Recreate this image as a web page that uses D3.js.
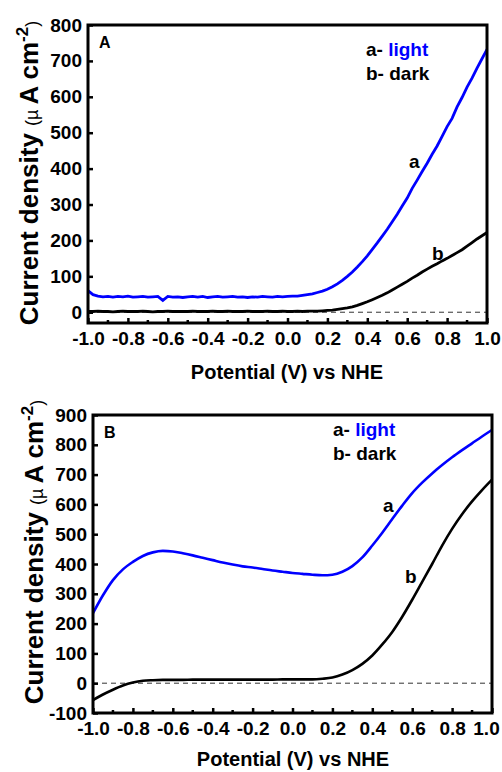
<!DOCTYPE html>
<html>
<head>
<meta charset="utf-8">
<script src="https://cdn.jsdelivr.net/npm/d3@7"></script>
<style>
  body { margin: 0; background: #fff; }
  text { font-family: Arial, "Liberation Sans", sans-serif; }
</style>
</head>
<body>
<svg id="chart" width="502" height="772"></svg>
<script>
// potential grids (V vs NHE)
const potA = d3.range(81).map(i => -1 + i * 0.025);
const potB = d3.range(41).map(i => -1 + i * 0.05);

// panel A, current density (uA cm-2)
const lightA = [60, 49, 45, 43, 44, 42, 44, 43, 45, 42, 43, 44, 42, 43, 44, 33, 44, 42, 43, 41,
    43, 44, 42, 44, 41, 43, 44, 42, 43, 44, 42, 43, 41, 43, 42, 44, 43, 42, 44, 43,
    44, 45, 45, 47, 49, 51, 55, 59, 64, 71, 79, 89, 100, 112, 126, 141, 157, 175, 193, 212,
    231, 252, 273, 296, 318, 345, 368, 392, 415, 440, 463, 490, 517, 540, 572, 598, 627, 652, 680, 706, 732];
const darkA = [2, 2, 3, 2, 2, 1, 2, 3, 2, 2, 2, 3, 2, 1, 2, 2, 3, 2, 2, 2,
    2, 3, 2, 2, 2, 3, 2, 2, 3, 2, 2, 2, 3, 2, 2, 2, 3, 2, 2, 3,
    2, 2, 3, 2, 3, 3, 3, 4, 5, 6, 8, 10, 12, 15, 19, 24, 29, 35, 41, 47,
    54, 62, 70, 78, 86, 95, 103, 112, 120, 128, 135, 143, 150, 158, 166, 174, 184, 194, 204, 213, 222];

// panel B
const lightB = [235, 295, 346, 382, 407, 427, 439, 444, 442, 436, 429, 421, 413, 405, 398, 392, 388, 383, 378, 374,
    370, 367, 364, 362, 364, 374, 393, 422, 462, 505, 551, 596, 638, 673, 704, 732, 758, 782, 805, 828, 850];
const darkB = [-57, -38, -22, -8, 2, 8, 10, 11, 11, 11, 12, 12, 12, 12, 12, 12, 12, 12, 12, 13,
    13, 13, 13, 15, 19, 29, 44, 65, 93, 130, 172, 223, 280, 340, 400, 462, 518, 567, 610, 648, 683];

const xTicks = [-1.0, -0.8, -0.6, -0.4, -0.2, 0.0, 0.2, 0.4, 0.6, 0.8, 1.0];
const xMinor = [-0.9, -0.7, -0.5, -0.3, -0.1, 0.1, 0.3, 0.5, 0.7, 0.9];
const yTicksA = [0, 100, 200, 300, 400, 500, 600, 700, 800];
const yTicksB = [-100, 0, 100, 200, 300, 400, 500, 600, 700, 800, 900];

const blue = "#0000ff";
const svg = d3.select("#chart");

function panel(cfg) {
    const x = d3.scaleLinear().domain([-1, 1]).range([cfg.left, cfg.right]);
    const y = d3.scaleLinear().domain(cfg.yDomain).range([cfg.bottom, cfg.top]);
    const g = svg.append("g");

    // zero reference line
    g.append("line")
        .attr("x1", x(-1)).attr("x2", x(1))
        .attr("y1", y(0)).attr("y2", y(0))
        .attr("stroke", "#333").attr("stroke-width", 1)
        .attr("stroke-dasharray", "5,4");

    const line = d3.line()
        .x((d, i) => x(cfg.pot[i]))
        .y(d => y(d))
        .curve(cfg.curve);

    g.append("path").datum(cfg.dark)
        .attr("fill", "none").attr("stroke", "#000")
        .attr("stroke-width", cfg.lw).attr("d", line);
    g.append("path").datum(cfg.light)
        .attr("fill", "none").attr("stroke", blue)
        .attr("stroke-width", cfg.lw).attr("d", line);

    // axes
    const xAxis = g.append("g")
        .attr("transform", `translate(0,${cfg.bottom})`)
        .call(d3.axisBottom(x).tickValues(xTicks).tickFormat(d => d.toFixed(1))
            .tickSizeInner(-5).tickSizeOuter(0).tickPadding(9));
    xAxis.select(".domain").remove();
    xAxis.selectAll("line").attr("stroke-width", 2.5);
    xAxis.selectAll("text").attr("font-size", 19).attr("font-weight", "bold").attr("fill", "#000")
        .attr("dx", d => d === 1 ? cfg.lastDx : 0);

    g.append("g").selectAll("line").data(xMinor).join("line")
        .attr("x1", d => x(d)).attr("x2", d => x(d))
        .attr("y1", cfg.bottom).attr("y2", cfg.bottom - 3)
        .attr("stroke", "#000").attr("stroke-width", 2.5);

    const yAxis = g.append("g")
        .attr("transform", `translate(${cfg.left},0)`)
        .call(d3.axisLeft(y).tickValues(cfg.yTicks).tickFormat(d => String(d))
            .tickSizeInner(-5).tickSizeOuter(0).tickPadding(6));
    yAxis.select(".domain").remove();
    yAxis.selectAll("line").attr("stroke-width", 2.5);
    yAxis.selectAll("text").attr("font-size", 19).attr("font-weight", "bold").attr("fill", "#000");

    // frame
    g.append("rect")
        .attr("x", cfg.left).attr("y", cfg.top)
        .attr("width", cfg.right - cfg.left).attr("height", cfg.bottom - cfg.top)
        .attr("fill", "none").attr("stroke", "#000").attr("stroke-width", 3);

    // panel letter
    g.append("text").attr("x", cfg.left + 11).attr("y", cfg.top + 23)
        .attr("font-size", 16).attr("font-weight", "bold").text(cfg.name);

    // legend
    const leg = g.append("text").attr("x", cfg.legX).attr("y", cfg.legY)
        .attr("font-size", 19).attr("font-weight", "bold");
    leg.append("tspan").text("a- ");
    leg.append("tspan").attr("fill", blue).text("light");
    g.append("text").attr("x", cfg.legX).attr("y", cfg.legY + 24)
        .attr("font-size", 19).attr("font-weight", "bold").text("b- dark");

    // curve labels
    g.append("text").attr("x", cfg.aLab[0]).attr("y", cfg.aLab[1])
        .attr("font-size", 19).attr("font-weight", "bold").text("a");
    g.append("text").attr("x", cfg.bLab[0]).attr("y", cfg.bLab[1])
        .attr("font-size", 19).attr("font-weight", "bold").text("b");

    // axis titles
    g.append("text").attr("x", cfg.xTitle[0]).attr("y", cfg.xTitle[1])
        .attr("text-anchor", "middle").attr("font-size", 20).attr("font-weight", "bold")
        .text("Potential (V) vs NHE");

    const yt = g.append("text")
        .attr("transform", `translate(${cfg.yTitle[0]},${cfg.yTitle[1]}) rotate(-90)`)
        .attr("text-anchor", "middle").attr("font-weight", "bold");
    yt.append("tspan").attr("font-size", 26).text("Current density ");
    yt.append("tspan").attr("font-size", 18).attr("font-weight", "normal").text("(\u00b5 ");
    yt.append("tspan").attr("font-size", 26).text("A cm");
    yt.append("tspan").attr("font-size", 17).attr("dy", -10).text("-2");
    yt.append("tspan").attr("font-size", 18).attr("font-weight", "normal").attr("dy", 10).text(")");
}

panel({
    name: "A", left: 88, right: 487, top: 25, bottom: 323, yDomain: [-30, 800],
    pot: potA, light: lightA, dark: darkA, curve: d3.curveLinear, lw: 2.8, lastDx: 0,
    yTicks: yTicksA, legX: 366, legY: 56, aLab: [409, 168], bLab: [432, 260],
    xTitle: [287, 379], yTitle: [38, 173]
});

panel({
    name: "B", left: 93, right: 492, top: 415, bottom: 713, yDomain: [-100, 900],
    pot: potB, light: lightB, dark: darkB, curve: d3.curveMonotoneX, lw: 2.6, lastDx: -6,
    yTicks: yTicksB, legX: 333, legY: 436, aLab: [383, 512], bLab: [405, 583],
    xTitle: [293, 766], yTitle: [43, 552]
});
</script>
</body>
</html>
